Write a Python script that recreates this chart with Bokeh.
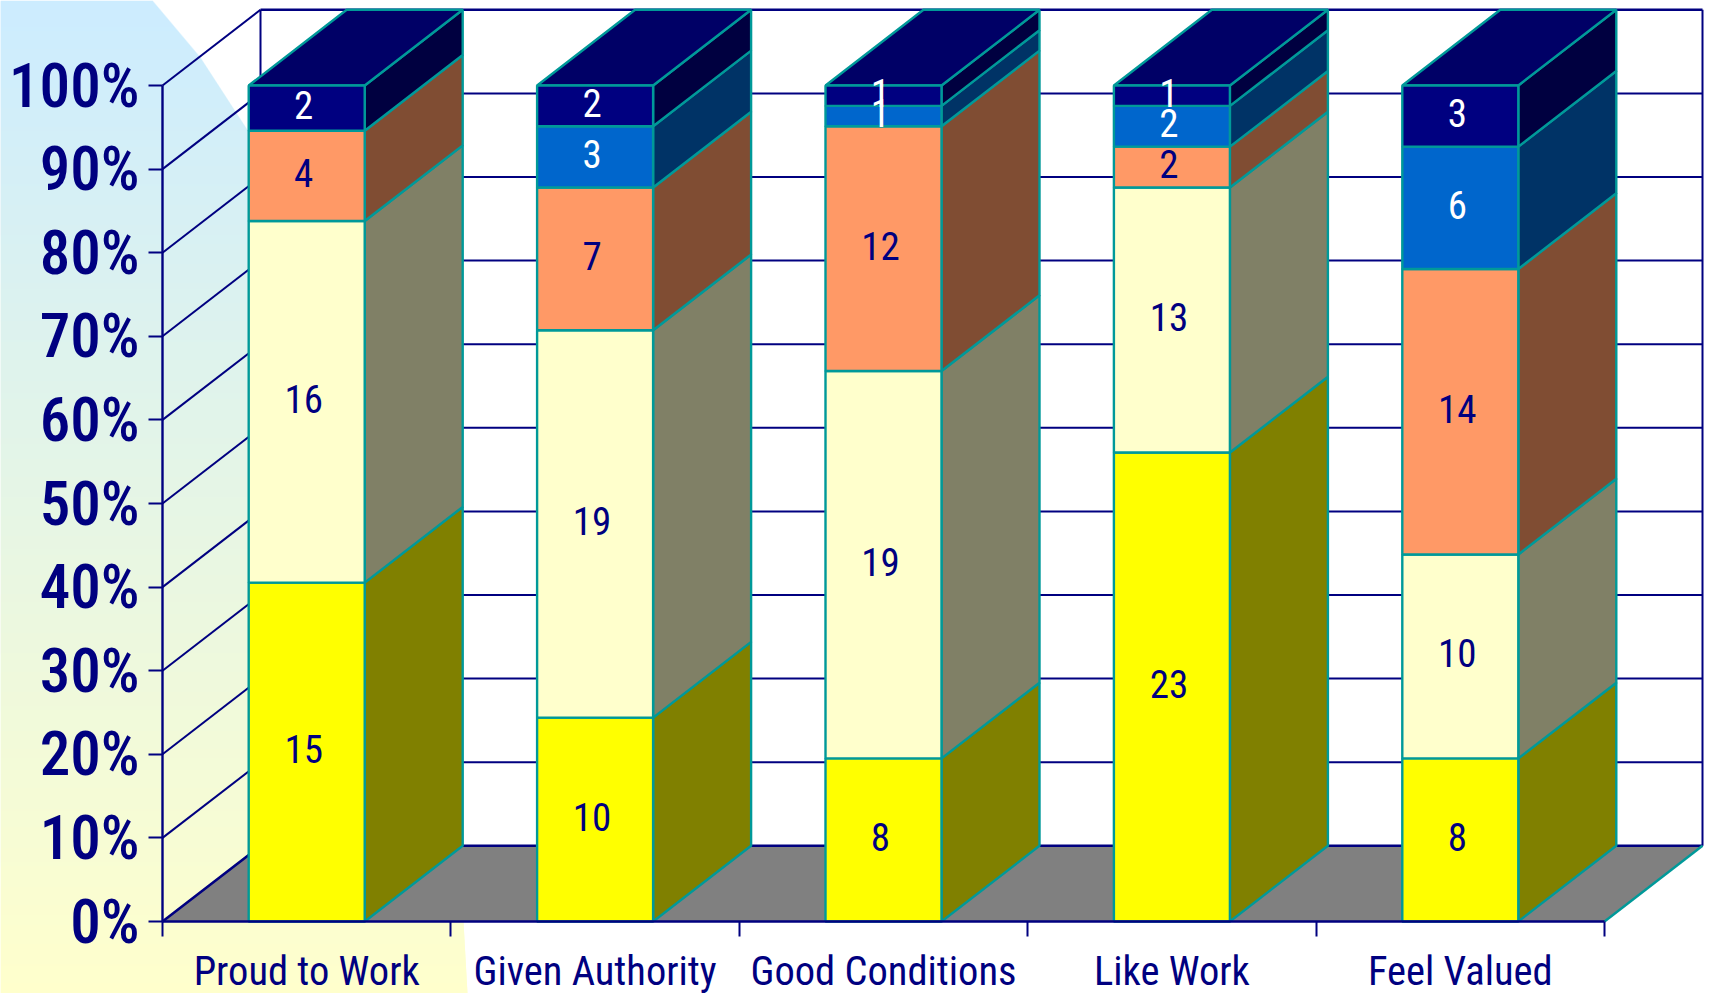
import numpy as np
from bokeh.core.properties import value
from bokeh.embed import file_html
from bokeh.models import FixedTicker, Range1d
from bokeh.plotting import figure
from bokeh.resources import INLINE

# Survey counts, stacked bottom to top
categories = ["Proud to Work", "Given Authority", "Good Conditions", "Like Work", "Feel Valued"]
band_1 = [15, 10, 8, 23, 8]
band_2 = [16, 19, 19, 13, 10]
band_3 = [4, 7, 12, 2, 14]
band_4 = [0, 3, 1, 2, 6]
band_5 = [2, 2, 1, 1, 3]
bands = [band_1, band_2, band_3, band_4, band_5]

front_colors = ["#FFFF00", "#FFFFCC", "#FF9966", "#0066CC", "#000080"]
side_colors = ["#808000", "#808066", "#804D33", "#003366", "#000040"]
label_colors = ["#000080", "#000080", "#000080", "#FFFFFF", "#FFFFFF"]
top_color = "#000066"
edge_color = "#009999"
axis_color = "#000080"
floor_color = "#808080"
percent_ticks = list(range(0, 101, 10))

FONT = "Roboto Condensed"
FONT_AXIS = "Roboto Condensed Medium"
WIDTH, HEIGHT = 1711, 993

# Page layout of the front plane of the 3D box
X0, X_UNIT = 162.0, 288.4   # px of category 0, px per category
Y0, Y_UNIT = 921.0, 8.36    # px of 0 %, px per percent
DEPTH_X = 98.0 / X_UNIT     # receding offset, in data units
DEPTH_Y = 75.7 / Y_UNIT
BAR_W = 116.0 / X_UNIT
EDGE_W = 2.4
WALL_W = 2.0


def dx(px):
    return (np.asarray(px, dtype=float) - X0) / X_UNIT


def dy(px):
    return (Y0 - np.asarray(px, dtype=float)) / Y_UNIT


p = figure(
    width=WIDTH, height=HEIGHT, output_backend="svg", toolbar_location=None,
    x_range=Range1d(float(dx(0)), float(dx(WIDTH))),
    y_range=Range1d(float(dy(HEIGHT)), float(dy(0))),
    min_border=0, outline_line_color=None, background_fill_color="white",
    border_fill_color="white",
)
p.grid.visible = False

# Soft backdrop panel: light blue fading to pale yellow, with a curved right edge.
# Rows overlap the next one so no seams show between them.
rows = np.arange(0, HEIGHT)
edge_y = [0, 57, 131, 300, 600, 921, 993]
edge_x = [152, 200, 248, 340, 430, 463, 467]
right_px = np.interp(rows + 0.5, edge_y, edge_x)
c_top, c_bot = np.array([204, 236, 255]), np.array([255, 255, 204])
row_colors = []
for r in rows:
    c = c_top + (c_bot - c_top) * r / (HEIGHT - 1)
    row_colors.append("#%02X%02X%02X" % tuple(int(round(v)) for v in c))
p.quad(left=dx(0), right=dx(right_px), top=dy(rows), bottom=dy(rows + 2),
       fill_color=row_colors, line_color=None)

# Walls: gridlines along the left side and across the back
for t in percent_ticks[1:]:
    p.line([0, DEPTH_X], [t, t + DEPTH_Y], line_color=axis_color, line_width=WALL_W)
    p.line([DEPTH_X, 5 + DEPTH_X], [t + DEPTH_Y, t + DEPTH_Y],
           line_color=axis_color, line_width=2.4 if t == 100 else WALL_W)
for x in (DEPTH_X, 5 + DEPTH_X):
    p.line([x, x], [DEPTH_Y, 100 + DEPTH_Y], line_color=axis_color, line_width=WALL_W)

# Floor
p.patch([0, DEPTH_X, 5 + DEPTH_X, 5], [0, DEPTH_Y, DEPTH_Y, 0],
        fill_color=floor_color, line_color=None)
p.line([0, DEPTH_X, 5 + DEPTH_X], [0, DEPTH_Y, DEPTH_Y], line_color=axis_color, line_width=2.6)
p.line([5, 5 + DEPTH_X], [0, DEPTH_Y], line_color=edge_color, line_width=EDGE_W)

# Stacked 100 % columns
vals = np.array(bands, dtype=float)
totals = vals.sum(axis=0)
shares = vals / totals * 100
tops = np.cumsum(shares, axis=0)
bottoms = tops - shares

xs_f, ys_f, fill_f, xs_s, ys_s, fill_s = [], [], [], [], [], []
lab_x, lab_y, lab_t, lab_c = [], [], [], []
for i in range(len(categories)):
    l, r = i + 0.5 - BAR_W / 2, i + 0.5 + BAR_W / 2
    for j in range(len(bands)):
        if vals[j, i] == 0:
            continue
        b, t = bottoms[j, i], tops[j, i]
        xs_s.append([r, r + DEPTH_X, r + DEPTH_X, r])
        ys_s.append([b, b + DEPTH_Y, t + DEPTH_Y, t])
        fill_s.append(side_colors[j])
        xs_f.append([l, r, r, l])
        ys_f.append([b, b, t, t])
        fill_f.append(front_colors[j])
        lab_x.append(i + 0.5)
        lab_y.append((b + t) / 2)
        lab_t.append(str(int(vals[j, i])))
        lab_c.append(label_colors[j])

p.patches(xs_s, ys_s, fill_color=fill_s, line_color=edge_color, line_width=EDGE_W)
p.patches(
    [[i + 0.5 - BAR_W / 2, i + 0.5 - BAR_W / 2 + DEPTH_X, i + 0.5 + BAR_W / 2 + DEPTH_X, i + 0.5 + BAR_W / 2]
     for i in range(len(categories))],
    [[100, 100 + DEPTH_Y, 100 + DEPTH_Y, 100] for _ in categories],
    fill_color=top_color, line_color=edge_color, line_width=EDGE_W,
)
p.patches(xs_f, ys_f, fill_color=fill_f, line_color=edge_color, line_width=EDGE_W)

p.text(lab_x, lab_y, text=lab_t, text_color=lab_c, text_font=value(FONT), text_font_size="39px",
       text_align="center", text_baseline="middle", x_offset=-3, y_offset=-3)

# Axes sit inside the frame at the front edges of the box
yax = p.yaxis[0]
yax.fixed_location = 0
yax.bounds = (0, 100)
yax.ticker = FixedTicker(ticks=percent_ticks)
yax.major_label_overrides = {t: f"{t}%" for t in percent_ticks}
yax.major_label_text_font = FONT_AXIS
yax.major_label_text_font_size = "61px"
yax.major_label_text_color = axis_color
yax.major_label_standoff = 9
yax.major_tick_in = 0
yax.major_tick_out = 14
yax.minor_tick_in = 0
yax.minor_tick_out = 0
yax.axis_line_color = axis_color
yax.axis_line_width = 2.4
yax.major_tick_line_color = axis_color
yax.major_tick_line_width = 2

centers = [i + 0.5 for i in range(len(categories))]
xax = p.xaxis[0]
xax.fixed_location = 0
xax.bounds = (0, 5)
xax.ticker = FixedTicker(ticks=centers, minor_ticks=list(range(len(categories) + 1)))
xax.major_label_overrides = dict(zip(centers, categories))
xax.major_label_text_font = FONT
xax.major_label_text_font_size = "40.5px"
xax.major_label_text_color = axis_color
xax.major_label_standoff = 10
xax.major_tick_in = 0
xax.major_tick_out = 0
xax.minor_tick_in = 0
xax.minor_tick_out = 15
xax.axis_line_color = axis_color
xax.axis_line_width = 2.6
xax.minor_tick_line_color = axis_color
xax.minor_tick_line_width = 2

open("out.html", "w").write(file_html(p, INLINE))
